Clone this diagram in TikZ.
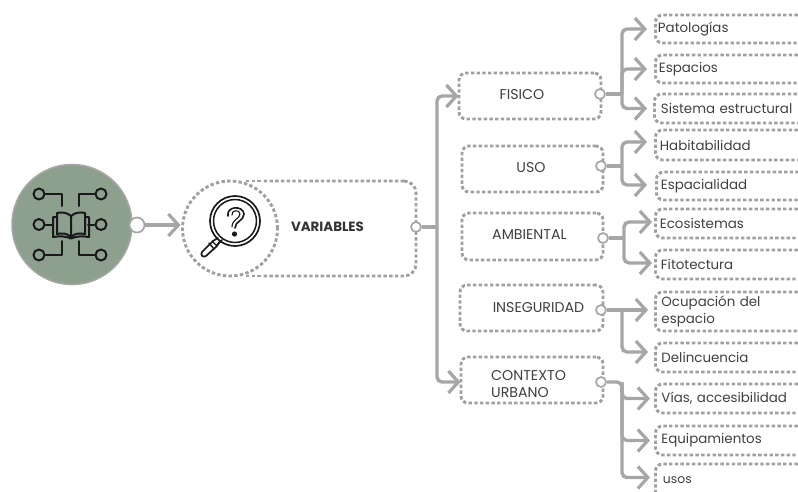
\documentclass[tikz,border=0pt]{standalone}
\usepackage{fontspec}
\setmainfont{Poppins}
\usetikzlibrary{arrows.meta,positioning,calc}
\definecolor{gline}{HTML}{A6A6A6}
\definecolor{gdash}{HTML}{A0A0A0}
\definecolor{sage}{HTML}{8DA08E}
\definecolor{ink}{HTML}{3F3F3F}
\tikzset{
  dashbox/.style={draw=gdash,line width=2.9pt,dash pattern=on 3.4pt off 2.3pt,rounded corners=7pt,inner sep=0pt},
  midbox/.style={dashbox,minimum width=142pt,minimum height=46pt},
  leafbox/.style={dashbox,minimum width=190pt,anchor=west,text width=186pt,align=left,text=ink,font=\fontsize{13.4}{17.5}\selectfont,inner xsep=4.5pt},
  midlabel/.style={text=ink,font=\fontsize{14.2}{17.5}\selectfont,align=left,inner sep=0pt},
  conn/.style={draw=gline,line width=3.4pt,rounded corners=5pt},
  arr/.style={conn,-{Straight Barb[length=10pt,width=22pt,line width=3.2pt]}},
  port/.style={circle,draw=gline,fill=white,line width=1.7pt,inner sep=0pt,minimum size=10pt},
  icon/.style={draw=black!90,line width=2pt,line cap=round,line join=round},
}
\begin{document}
\begin{tikzpicture}[x=1pt,y=-1pt]
\useasboundingbox (0,0) rectangle (798,491);
\clip (0,0) rectangle (798,491);

% source circle and book icon
\node[circle,fill=sage,draw=gline,line width=1.5pt,minimum size=120pt,inner sep=0pt] (src) at (72,224.5) {};
\foreach \n/\cx/\cy in {c1/39/194,c2/39/224.5,c3/39/255,c4/101/194,c5/101/224.5,c6/101/255}
  \node[circle,icon,minimum size=11pt,inner sep=0pt] (\n) at (\cx,\cy) {};
\draw[icon] (c1.east) -- (62,194) -- (62,206);
\draw[icon] (c4.west) -- (79,194) -- (79,206);
\draw[icon] (c3.east) -- (62,255) -- (62,241);
\draw[icon] (c6.west) -- (79,255) -- (79,241);
\draw[icon] (c2.east) -- (52,224.5);
\draw[icon] (c5.west) -- (88,224.5);
\draw[icon] (71,216) .. controls (67,212) and (60,212) .. (57,213) -- (57,234) .. controls (62,233) and (67,233) .. (71,237)
   .. controls (75,233) and (80,233) .. (85,234) -- (85,213) .. controls (82,212) and (75,212) .. (71,216) -- (71,237);
\draw[icon] (57,217) -- (53,217) -- (53,237) .. controls (59,236) and (66,236) .. (71,238.5) .. controls (76,236) and (83,236) .. (89,237) -- (89,217) -- (85,217);

% main box
\node[dashbox,minimum width=171pt,minimum height=95pt,rounded corners=12pt] (mainbox) at (330.5,228.5) {};
\fill[white] (240,170) rectangle (262,190);
\fill[white] (240,268) rectangle (262,285);
\draw[gdash,line width=2.9pt,dash pattern=on 3.4pt off 2.3pt] (246,181) -- (262,181) (246,276) -- (262,276);
\node[circle,draw=gdash,fill=white,line width=2.9pt,dash pattern=on 3.4pt off 2.3pt,minimum size=95pt,inner sep=0pt] (qc) at (230,228.5) {};
\node[text=black!80,font=\fontsize{13.4}{15}\selectfont\bfseries,inner sep=0pt] (vlabel) at (327.5,227) {VARIABLES};

% magnifier icon
\node[circle,icon,line width=1.7pt,minimum size=50pt,inner sep=0pt] (lens) at (235,221) {};
\node[circle,icon,line width=1.5pt,minimum size=43pt,inner sep=0pt] (lensin) at (235,221) {};
\draw[icon,line width=1.7pt] (222,240) -- (217,245);
\draw[icon,line width=1.7pt] (218,238) -- (213,241) -- (202,252) .. controls (200,255) and (203,258) .. (206,256) -- (217,246) -- (220,241);
\draw[icon,line width=1.4pt] (209,243) -- (214,249) (212,241) -- (217,246);
\draw[icon,line width=1.6pt] (228,216) .. controls (226,206) and (243,205) .. (244,214) .. controls (244,221) and (235,221) .. (235,228);
\draw[icon,line width=1.1pt] (232,215) .. controls (231,210) and (240,209) .. (240,214) .. controls (240,219) and (232,219) .. (232,227);
\fill[black!90] (234.5,234) circle (2.6);

% middle boxes
\node[midbox,minimum width=142pt] (fis) at (530,96) {};
\node[midbox,minimum width=141pt] (uso) at (532.5,169) {};
\node[midbox,minimum width=141pt,minimum height=47pt] (amb) at (532.5,236.5) {};
\node[midbox,minimum width=143pt] (ins) at (531.5,308) {};
\node[midbox,minimum width=142pt] (ctx) at (532,380) {};
\node[midlabel] (lf) at (522,95) {FISICO};
\node[midlabel] (lu) at (531,168) {USO};
\node[midlabel] (la) at (529.5,234.5) {AMBIENTAL};
\node[midlabel] (li) at (538.5,307.5) {INSEGURIDAD};
\node[midlabel,anchor=west] (lc) at (491,384) {CONTEXTO\\URBANO};

% leaves
\node[leafbox,minimum height=28pt] (l1) at (654,29) {\hspace{-2pt}Patologías};
\node[leafbox,minimum height=28pt] (l2) at (654,69) {\hspace{-1pt}Espacios};
\node[leafbox,minimum height=29pt] (l3) at (653,108.5) {\hspace{2pt}Sistema estructural};
\node[leafbox,minimum height=30pt] (l4) at (654,145) {Habitabilidad};
\node[leafbox,minimum height=28pt] (l5) at (655,186) {Espacialidad};
\node[leafbox,minimum height=29pt] (l6) at (654,223.5) {Ecosistemas};
\node[leafbox,minimum height=29pt] (l7) at (654,264.5) {\hspace{1pt}Fitotectura};
\node[leafbox,minimum height=39pt] (l8) at (654,311.5) {\hspace{1.5pt}Ocupación del\\\hspace*{1.5pt}espacio};
\node[leafbox,minimum height=29pt] (l9) at (654,357.5) {\hspace{1.5pt}Delincuencia};
\node[leafbox,minimum height=29pt] (l10) at (654,398.5) {\hspace{1.5pt}Vías, accesibilidad};
\node[leafbox,minimum height=29pt] (l11) at (654,440.5) {\hspace{1.5pt}Equipamientos};
\node[leafbox,minimum height=38pt,text=ink] (l12) at (654,483) {\hspace{3pt}\raisebox{5.5pt}{\fontsize{12.4}{14}\selectfont usos}};

% ports
\node[port,minimum size=15pt] (p0) at (137,225) {};
\node[port,minimum size=10pt] (p1) at (416,227) {};
\node[port] (pf) at (600,94) {};
\node[port] (pu) at (601,166) {};
\node[port] (pa) at (603,238) {};
\node[port] (pi) at (601,310) {};
\node[port] (pc) at (601,382) {};

% branch points
\coordinate (t0) at (437,227);
\coordinate (bf) at (622,94);
\coordinate (bu) at (622,166);
\coordinate (ba) at (624,238);
\coordinate (bi) at (622,310);
\coordinate (bc) at (622,382);

% connectors
\draw[arr,shorten >=0.5pt] (p0.east) -- ([yshift=3.5pt]qc.west);
\draw[conn] (p1.east) -- (t0);
\draw[arr,shorten >=-1pt] (t0) |- (fis.west);
\draw[arr,shorten >=-1pt] (t0) |- ([yshift=-2pt]ctx.west);

\draw[conn] (pf.east) -- (bf);
\draw[arr,shorten >=7pt] (bf) |- (l1.west);
\draw[arr,shorten >=7pt] (bf) |- (l2.west);
\draw[arr,shorten >=6pt] (bf) |- (l3.west);

\draw[conn] (pu.east) -- (bu);
\draw[arr,shorten >=7pt] (bu) |- ([yshift=3pt]l4.west);
\draw[arr,shorten >=8pt] (bu) |- ([yshift=1pt]l5.west);

\draw[conn] (pa.east) -- (ba);
\draw[arr,shorten >=2pt] (ba) |- ([yshift=1.5pt]l6.west);
\draw[arr,shorten >=2pt] (ba) |- ([yshift=1.5pt]l7.west);

\draw[arr,shorten >=6pt] (pi.east) -- ([yshift=1.5pt]l8.west);
\draw[arr,shorten >=6pt] (bi) |- ([yshift=5.5pt]l9.west);

\draw[arr,shorten >=4pt] (pc.east) -- (bc) -- (622,477.5) -- ([yshift=5.5pt]l12.west);
\draw[arr,shorten >=4pt] (bc) |- (l10.west);
\draw[arr,shorten >=4pt] (bc) |- (l11.west);
\end{tikzpicture}
\end{document}
